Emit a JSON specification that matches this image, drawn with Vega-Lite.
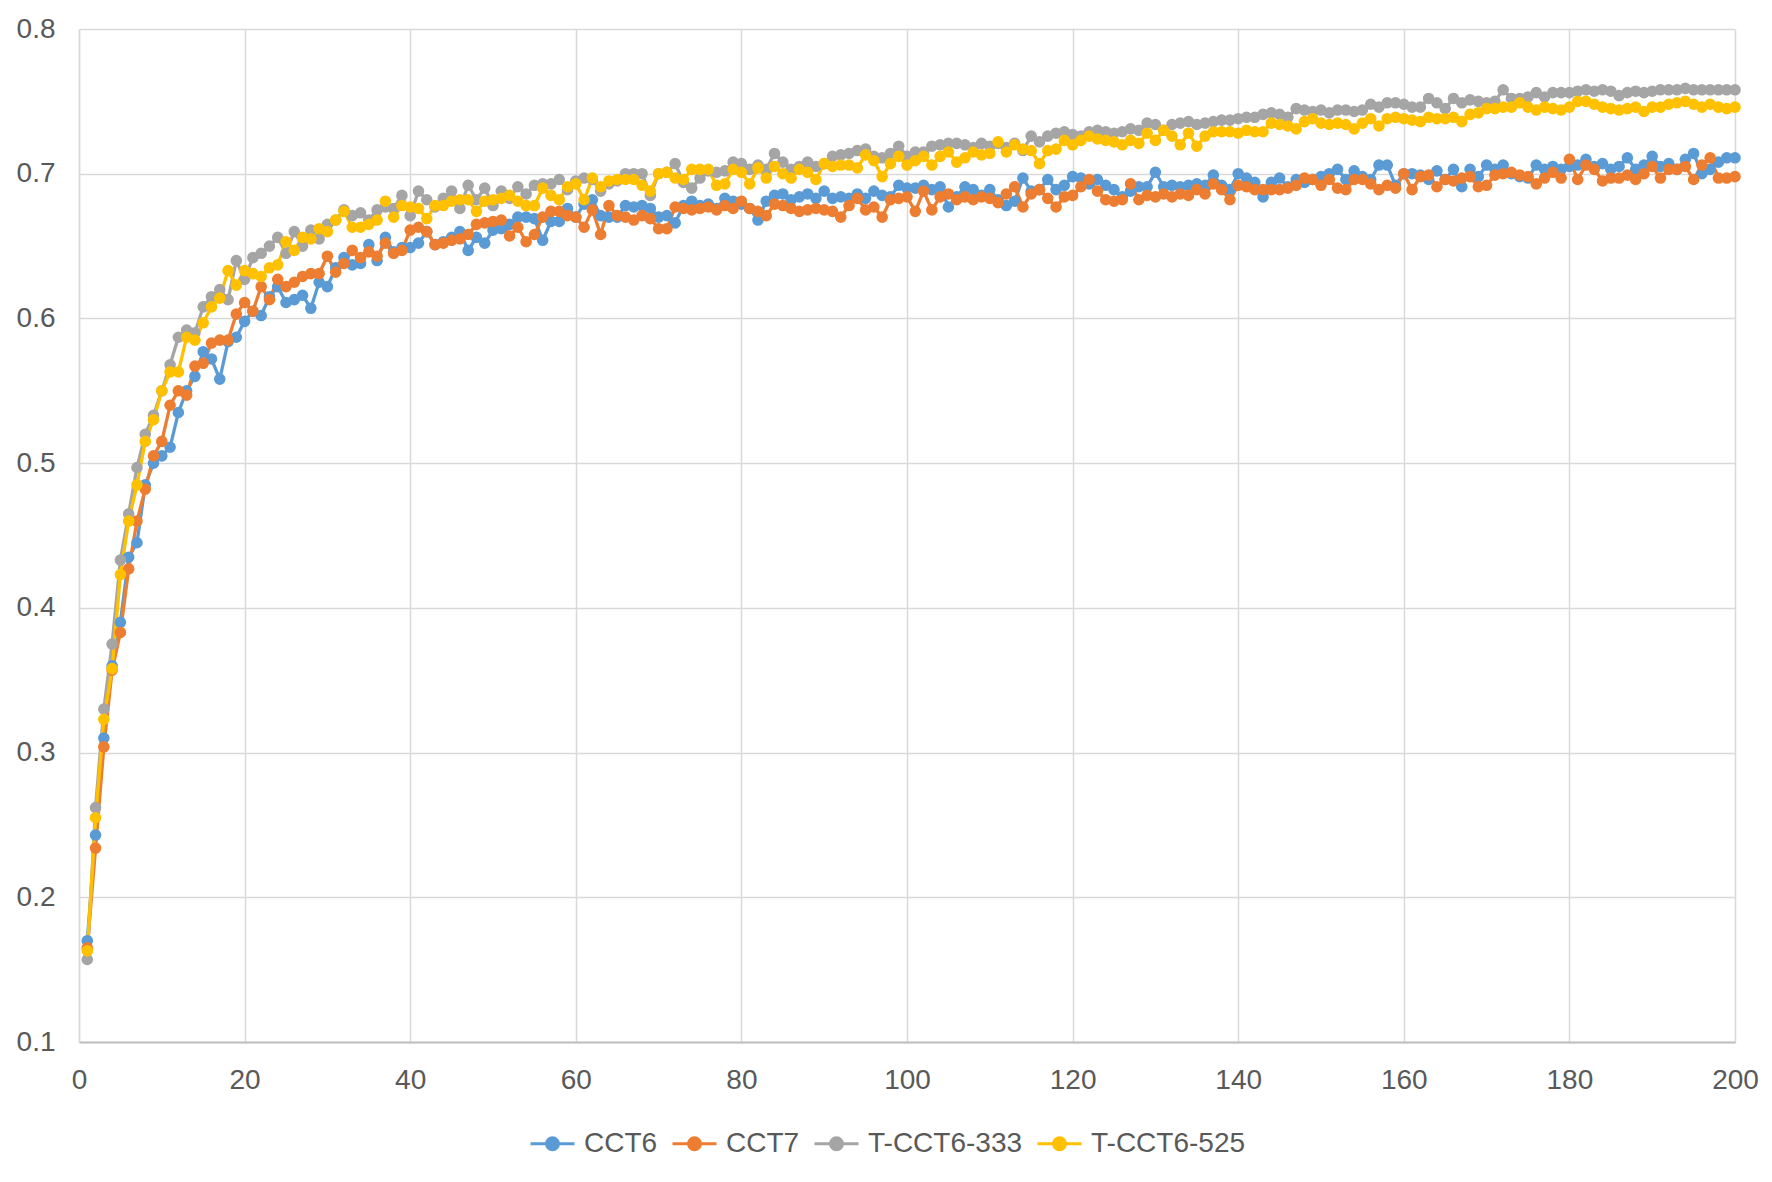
{
  "$schema": "https://vega.github.io/schema/vega-lite/v6.json",
  "width": 1656,
  "height": 1013,
  "autosize": {"type": "none"},
  "padding": {"left": 79, "top": 29, "right": 37, "bottom": 140},
  "background": "white",
  "config": {
    "font": "Liberation Sans",
    "view": {"stroke": null},
    "axis": {
      "labelFont": "Liberation Sans",
      "labelFontSize": 28,
      "labelColor": "#595959",
      "gridColor": "#D9D9D9",
      "gridWidth": 1.5,
      "ticks": false,
      "title": null
    }
  },
  "data": {
    "values": [
      {"x": 1, "CCT6": 0.170, "CCT7": 0.165, "T-CCT6-333": 0.157, "T-CCT6-525": 0.163},
      {"x": 2, "CCT6": 0.243, "CCT7": 0.234, "T-CCT6-333": 0.262, "T-CCT6-525": 0.255},
      {"x": 3, "CCT6": 0.310, "CCT7": 0.304, "T-CCT6-333": 0.330, "T-CCT6-525": 0.323},
      {"x": 4, "CCT6": 0.360, "CCT7": 0.357, "T-CCT6-333": 0.375, "T-CCT6-525": 0.358},
      {"x": 5, "CCT6": 0.390, "CCT7": 0.383, "T-CCT6-333": 0.433, "T-CCT6-525": 0.423},
      {"x": 6, "CCT6": 0.435, "CCT7": 0.427, "T-CCT6-333": 0.465, "T-CCT6-525": 0.460},
      {"x": 7, "CCT6": 0.445, "CCT7": 0.460, "T-CCT6-333": 0.497, "T-CCT6-525": 0.485},
      {"x": 8, "CCT6": 0.485, "CCT7": 0.482, "T-CCT6-333": 0.520, "T-CCT6-525": 0.515},
      {"x": 9, "CCT6": 0.500, "CCT7": 0.505, "T-CCT6-333": 0.533, "T-CCT6-525": 0.530},
      {"x": 10, "CCT6": 0.505, "CCT7": 0.515, "T-CCT6-333": 0.550, "T-CCT6-525": 0.550},
      {"x": 11, "CCT6": 0.511, "CCT7": 0.540, "T-CCT6-333": 0.568, "T-CCT6-525": 0.563},
      {"x": 12, "CCT6": 0.535, "CCT7": 0.550, "T-CCT6-333": 0.587, "T-CCT6-525": 0.563},
      {"x": 13, "CCT6": 0.550, "CCT7": 0.547, "T-CCT6-333": 0.592, "T-CCT6-525": 0.587},
      {"x": 14, "CCT6": 0.560, "CCT7": 0.567, "T-CCT6-333": 0.590, "T-CCT6-525": 0.585},
      {"x": 15, "CCT6": 0.577, "CCT7": 0.569, "T-CCT6-333": 0.608, "T-CCT6-525": 0.597},
      {"x": 16, "CCT6": 0.572, "CCT7": 0.583, "T-CCT6-333": 0.615, "T-CCT6-525": 0.608},
      {"x": 17, "CCT6": 0.558, "CCT7": 0.585, "T-CCT6-333": 0.620, "T-CCT6-525": 0.614},
      {"x": 18, "CCT6": 0.584, "CCT7": 0.585, "T-CCT6-333": 0.613, "T-CCT6-525": 0.633},
      {"x": 19, "CCT6": 0.587, "CCT7": 0.603, "T-CCT6-333": 0.640, "T-CCT6-525": 0.623},
      {"x": 20, "CCT6": 0.598, "CCT7": 0.611, "T-CCT6-333": 0.627, "T-CCT6-525": 0.633},
      {"x": 21, "CCT6": 0.605, "CCT7": 0.605, "T-CCT6-333": 0.642, "T-CCT6-525": 0.631},
      {"x": 22, "CCT6": 0.602, "CCT7": 0.622, "T-CCT6-333": 0.645, "T-CCT6-525": 0.629},
      {"x": 23, "CCT6": 0.615, "CCT7": 0.613, "T-CCT6-333": 0.650, "T-CCT6-525": 0.635},
      {"x": 24, "CCT6": 0.622, "CCT7": 0.627, "T-CCT6-333": 0.656, "T-CCT6-525": 0.637},
      {"x": 25, "CCT6": 0.611, "CCT7": 0.622, "T-CCT6-333": 0.645, "T-CCT6-525": 0.653},
      {"x": 26, "CCT6": 0.613, "CCT7": 0.625, "T-CCT6-333": 0.660, "T-CCT6-525": 0.647},
      {"x": 27, "CCT6": 0.616, "CCT7": 0.629, "T-CCT6-333": 0.650, "T-CCT6-525": 0.656},
      {"x": 28, "CCT6": 0.607, "CCT7": 0.631, "T-CCT6-333": 0.661, "T-CCT6-525": 0.655},
      {"x": 29, "CCT6": 0.625, "CCT7": 0.631, "T-CCT6-333": 0.655, "T-CCT6-525": 0.662},
      {"x": 30, "CCT6": 0.622, "CCT7": 0.643, "T-CCT6-333": 0.665, "T-CCT6-525": 0.660},
      {"x": 31, "CCT6": 0.635, "CCT7": 0.632, "T-CCT6-333": 0.668, "T-CCT6-525": 0.668},
      {"x": 32, "CCT6": 0.642, "CCT7": 0.638, "T-CCT6-333": 0.675, "T-CCT6-525": 0.674},
      {"x": 33, "CCT6": 0.637, "CCT7": 0.647, "T-CCT6-333": 0.671, "T-CCT6-525": 0.663},
      {"x": 34, "CCT6": 0.638, "CCT7": 0.642, "T-CCT6-333": 0.673, "T-CCT6-525": 0.663},
      {"x": 35, "CCT6": 0.651, "CCT7": 0.646, "T-CCT6-333": 0.668, "T-CCT6-525": 0.665},
      {"x": 36, "CCT6": 0.640, "CCT7": 0.643, "T-CCT6-333": 0.675, "T-CCT6-525": 0.668},
      {"x": 37, "CCT6": 0.656, "CCT7": 0.652, "T-CCT6-333": 0.677, "T-CCT6-525": 0.681},
      {"x": 38, "CCT6": 0.646, "CCT7": 0.645, "T-CCT6-333": 0.676, "T-CCT6-525": 0.670},
      {"x": 39, "CCT6": 0.649, "CCT7": 0.647, "T-CCT6-333": 0.685, "T-CCT6-525": 0.678},
      {"x": 40, "CCT6": 0.649, "CCT7": 0.661, "T-CCT6-333": 0.671, "T-CCT6-525": 0.677},
      {"x": 41, "CCT6": 0.652, "CCT7": 0.663, "T-CCT6-333": 0.688, "T-CCT6-525": 0.676},
      {"x": 42, "CCT6": 0.660, "CCT7": 0.660, "T-CCT6-333": 0.682, "T-CCT6-525": 0.669},
      {"x": 43, "CCT6": 0.651, "CCT7": 0.651, "T-CCT6-333": 0.677, "T-CCT6-525": 0.678},
      {"x": 44, "CCT6": 0.653, "CCT7": 0.652, "T-CCT6-333": 0.683, "T-CCT6-525": 0.678},
      {"x": 45, "CCT6": 0.656, "CCT7": 0.654, "T-CCT6-333": 0.688, "T-CCT6-525": 0.681},
      {"x": 46, "CCT6": 0.660, "CCT7": 0.655, "T-CCT6-333": 0.676, "T-CCT6-525": 0.682},
      {"x": 47, "CCT6": 0.647, "CCT7": 0.658, "T-CCT6-333": 0.692, "T-CCT6-525": 0.682},
      {"x": 48, "CCT6": 0.656, "CCT7": 0.665, "T-CCT6-333": 0.682, "T-CCT6-525": 0.674},
      {"x": 49, "CCT6": 0.652, "CCT7": 0.666, "T-CCT6-333": 0.690, "T-CCT6-525": 0.681},
      {"x": 50, "CCT6": 0.661, "CCT7": 0.667, "T-CCT6-333": 0.678, "T-CCT6-525": 0.682},
      {"x": 51, "CCT6": 0.662, "CCT7": 0.668, "T-CCT6-333": 0.688, "T-CCT6-525": 0.683},
      {"x": 52, "CCT6": 0.665, "CCT7": 0.657, "T-CCT6-333": 0.683, "T-CCT6-525": 0.685},
      {"x": 53, "CCT6": 0.670, "CCT7": 0.663, "T-CCT6-333": 0.691, "T-CCT6-525": 0.681},
      {"x": 54, "CCT6": 0.670, "CCT7": 0.653, "T-CCT6-333": 0.686, "T-CCT6-525": 0.678},
      {"x": 55, "CCT6": 0.669, "CCT7": 0.658, "T-CCT6-333": 0.692, "T-CCT6-525": 0.678},
      {"x": 56, "CCT6": 0.654, "CCT7": 0.670, "T-CCT6-333": 0.693, "T-CCT6-525": 0.690},
      {"x": 57, "CCT6": 0.667, "CCT7": 0.674, "T-CCT6-333": 0.693, "T-CCT6-525": 0.685},
      {"x": 58, "CCT6": 0.667, "CCT7": 0.674, "T-CCT6-333": 0.696, "T-CCT6-525": 0.682},
      {"x": 59, "CCT6": 0.676, "CCT7": 0.671, "T-CCT6-333": 0.689, "T-CCT6-525": 0.691},
      {"x": 60, "CCT6": 0.670, "CCT7": 0.670, "T-CCT6-333": 0.695, "T-CCT6-525": 0.693},
      {"x": 61, "CCT6": 0.679, "CCT7": 0.663, "T-CCT6-333": 0.697, "T-CCT6-525": 0.682},
      {"x": 62, "CCT6": 0.682, "CCT7": 0.675, "T-CCT6-333": 0.696, "T-CCT6-525": 0.697},
      {"x": 63, "CCT6": 0.671, "CCT7": 0.658, "T-CCT6-333": 0.688, "T-CCT6-525": 0.691},
      {"x": 64, "CCT6": 0.670, "CCT7": 0.678, "T-CCT6-333": 0.693, "T-CCT6-525": 0.695},
      {"x": 65, "CCT6": 0.670, "CCT7": 0.671, "T-CCT6-333": 0.695, "T-CCT6-525": 0.696},
      {"x": 66, "CCT6": 0.678, "CCT7": 0.670, "T-CCT6-333": 0.700, "T-CCT6-525": 0.696},
      {"x": 67, "CCT6": 0.677, "CCT7": 0.668, "T-CCT6-333": 0.700, "T-CCT6-525": 0.696},
      {"x": 68, "CCT6": 0.678, "CCT7": 0.671, "T-CCT6-333": 0.700, "T-CCT6-525": 0.692},
      {"x": 69, "CCT6": 0.676, "CCT7": 0.669, "T-CCT6-333": 0.685, "T-CCT6-525": 0.688},
      {"x": 70, "CCT6": 0.670, "CCT7": 0.662, "T-CCT6-333": 0.700, "T-CCT6-525": 0.700},
      {"x": 71, "CCT6": 0.671, "CCT7": 0.662, "T-CCT6-333": 0.701, "T-CCT6-525": 0.701},
      {"x": 72, "CCT6": 0.666, "CCT7": 0.677, "T-CCT6-333": 0.707, "T-CCT6-525": 0.697},
      {"x": 73, "CCT6": 0.678, "CCT7": 0.676, "T-CCT6-333": 0.694, "T-CCT6-525": 0.696},
      {"x": 74, "CCT6": 0.681, "CCT7": 0.675, "T-CCT6-333": 0.690, "T-CCT6-525": 0.703},
      {"x": 75, "CCT6": 0.678, "CCT7": 0.676, "T-CCT6-333": 0.697, "T-CCT6-525": 0.703},
      {"x": 76, "CCT6": 0.679, "CCT7": 0.677, "T-CCT6-333": 0.702, "T-CCT6-525": 0.703},
      {"x": 77, "CCT6": 0.676, "CCT7": 0.675, "T-CCT6-333": 0.701, "T-CCT6-525": 0.692},
      {"x": 78, "CCT6": 0.683, "CCT7": 0.678, "T-CCT6-333": 0.702, "T-CCT6-525": 0.693},
      {"x": 79, "CCT6": 0.681, "CCT7": 0.676, "T-CCT6-333": 0.708, "T-CCT6-525": 0.703},
      {"x": 80, "CCT6": 0.679, "CCT7": 0.681, "T-CCT6-333": 0.707, "T-CCT6-525": 0.701},
      {"x": 81, "CCT6": 0.676, "CCT7": 0.676, "T-CCT6-333": 0.703, "T-CCT6-525": 0.693},
      {"x": 82, "CCT6": 0.668, "CCT7": 0.674, "T-CCT6-333": 0.706, "T-CCT6-525": 0.704},
      {"x": 83, "CCT6": 0.681, "CCT7": 0.671, "T-CCT6-333": 0.703, "T-CCT6-525": 0.697},
      {"x": 84, "CCT6": 0.685, "CCT7": 0.679, "T-CCT6-333": 0.714, "T-CCT6-525": 0.705},
      {"x": 85, "CCT6": 0.686, "CCT7": 0.678, "T-CCT6-333": 0.708, "T-CCT6-525": 0.700},
      {"x": 86, "CCT6": 0.682, "CCT7": 0.676, "T-CCT6-333": 0.703, "T-CCT6-525": 0.697},
      {"x": 87, "CCT6": 0.684, "CCT7": 0.674, "T-CCT6-333": 0.705, "T-CCT6-525": 0.703},
      {"x": 88, "CCT6": 0.686, "CCT7": 0.675, "T-CCT6-333": 0.708, "T-CCT6-525": 0.701},
      {"x": 89, "CCT6": 0.683, "CCT7": 0.676, "T-CCT6-333": 0.705, "T-CCT6-525": 0.696},
      {"x": 90, "CCT6": 0.688, "CCT7": 0.675, "T-CCT6-333": 0.707, "T-CCT6-525": 0.707},
      {"x": 91, "CCT6": 0.683, "CCT7": 0.674, "T-CCT6-333": 0.712, "T-CCT6-525": 0.705},
      {"x": 92, "CCT6": 0.684, "CCT7": 0.670, "T-CCT6-333": 0.713, "T-CCT6-525": 0.706},
      {"x": 93, "CCT6": 0.683, "CCT7": 0.678, "T-CCT6-333": 0.714, "T-CCT6-525": 0.706},
      {"x": 94, "CCT6": 0.686, "CCT7": 0.683, "T-CCT6-333": 0.716, "T-CCT6-525": 0.704},
      {"x": 95, "CCT6": 0.683, "CCT7": 0.675, "T-CCT6-333": 0.717, "T-CCT6-525": 0.713},
      {"x": 96, "CCT6": 0.688, "CCT7": 0.677, "T-CCT6-333": 0.712, "T-CCT6-525": 0.709},
      {"x": 97, "CCT6": 0.685, "CCT7": 0.670, "T-CCT6-333": 0.711, "T-CCT6-525": 0.698},
      {"x": 98, "CCT6": 0.684, "CCT7": 0.682, "T-CCT6-333": 0.714, "T-CCT6-525": 0.707},
      {"x": 99, "CCT6": 0.692, "CCT7": 0.683, "T-CCT6-333": 0.719, "T-CCT6-525": 0.712},
      {"x": 100, "CCT6": 0.690, "CCT7": 0.684, "T-CCT6-333": 0.712, "T-CCT6-525": 0.706},
      {"x": 101, "CCT6": 0.690, "CCT7": 0.674, "T-CCT6-333": 0.715, "T-CCT6-525": 0.709},
      {"x": 102, "CCT6": 0.692, "CCT7": 0.688, "T-CCT6-333": 0.715, "T-CCT6-525": 0.712},
      {"x": 103, "CCT6": 0.689, "CCT7": 0.675, "T-CCT6-333": 0.719, "T-CCT6-525": 0.706},
      {"x": 104, "CCT6": 0.691, "CCT7": 0.684, "T-CCT6-333": 0.720, "T-CCT6-525": 0.712},
      {"x": 105, "CCT6": 0.677, "CCT7": 0.686, "T-CCT6-333": 0.721, "T-CCT6-525": 0.715},
      {"x": 106, "CCT6": 0.684, "CCT7": 0.682, "T-CCT6-333": 0.721, "T-CCT6-525": 0.708},
      {"x": 107, "CCT6": 0.691, "CCT7": 0.684, "T-CCT6-333": 0.720, "T-CCT6-525": 0.711},
      {"x": 108, "CCT6": 0.689, "CCT7": 0.682, "T-CCT6-333": 0.718, "T-CCT6-525": 0.715},
      {"x": 109, "CCT6": 0.685, "CCT7": 0.684, "T-CCT6-333": 0.721, "T-CCT6-525": 0.713},
      {"x": 110, "CCT6": 0.689, "CCT7": 0.683, "T-CCT6-333": 0.719, "T-CCT6-525": 0.714},
      {"x": 111, "CCT6": 0.682, "CCT7": 0.680, "T-CCT6-333": 0.721, "T-CCT6-525": 0.722},
      {"x": 112, "CCT6": 0.678, "CCT7": 0.686, "T-CCT6-333": 0.718, "T-CCT6-525": 0.715},
      {"x": 113, "CCT6": 0.681, "CCT7": 0.691, "T-CCT6-333": 0.721, "T-CCT6-525": 0.720},
      {"x": 114, "CCT6": 0.697, "CCT7": 0.677, "T-CCT6-333": 0.716, "T-CCT6-525": 0.717},
      {"x": 115, "CCT6": 0.688, "CCT7": 0.686, "T-CCT6-333": 0.726, "T-CCT6-525": 0.716},
      {"x": 116, "CCT6": 0.689, "CCT7": 0.689, "T-CCT6-333": 0.722, "T-CCT6-525": 0.707},
      {"x": 117, "CCT6": 0.696, "CCT7": 0.683, "T-CCT6-333": 0.726, "T-CCT6-525": 0.716},
      {"x": 118, "CCT6": 0.689, "CCT7": 0.677, "T-CCT6-333": 0.728, "T-CCT6-525": 0.717},
      {"x": 119, "CCT6": 0.692, "CCT7": 0.684, "T-CCT6-333": 0.729, "T-CCT6-525": 0.723},
      {"x": 120, "CCT6": 0.698, "CCT7": 0.685, "T-CCT6-333": 0.727, "T-CCT6-525": 0.720},
      {"x": 121, "CCT6": 0.697, "CCT7": 0.691, "T-CCT6-333": 0.726, "T-CCT6-525": 0.723},
      {"x": 122, "CCT6": 0.693, "CCT7": 0.696, "T-CCT6-333": 0.729, "T-CCT6-525": 0.726},
      {"x": 123, "CCT6": 0.696, "CCT7": 0.688, "T-CCT6-333": 0.730, "T-CCT6-525": 0.724},
      {"x": 124, "CCT6": 0.692, "CCT7": 0.682, "T-CCT6-333": 0.729, "T-CCT6-525": 0.723},
      {"x": 125, "CCT6": 0.689, "CCT7": 0.681, "T-CCT6-333": 0.728, "T-CCT6-525": 0.722},
      {"x": 126, "CCT6": 0.684, "CCT7": 0.682, "T-CCT6-333": 0.729, "T-CCT6-525": 0.720},
      {"x": 127, "CCT6": 0.688, "CCT7": 0.693, "T-CCT6-333": 0.731, "T-CCT6-525": 0.723},
      {"x": 128, "CCT6": 0.691, "CCT7": 0.682, "T-CCT6-333": 0.730, "T-CCT6-525": 0.721},
      {"x": 129, "CCT6": 0.691, "CCT7": 0.685, "T-CCT6-333": 0.735, "T-CCT6-525": 0.728},
      {"x": 130, "CCT6": 0.701, "CCT7": 0.684, "T-CCT6-333": 0.734, "T-CCT6-525": 0.723},
      {"x": 131, "CCT6": 0.691, "CCT7": 0.686, "T-CCT6-333": 0.730, "T-CCT6-525": 0.730},
      {"x": 132, "CCT6": 0.692, "CCT7": 0.684, "T-CCT6-333": 0.734, "T-CCT6-525": 0.726},
      {"x": 133, "CCT6": 0.691, "CCT7": 0.686, "T-CCT6-333": 0.735, "T-CCT6-525": 0.720},
      {"x": 134, "CCT6": 0.692, "CCT7": 0.685, "T-CCT6-333": 0.736, "T-CCT6-525": 0.728},
      {"x": 135, "CCT6": 0.693, "CCT7": 0.689, "T-CCT6-333": 0.734, "T-CCT6-525": 0.719},
      {"x": 136, "CCT6": 0.692, "CCT7": 0.686, "T-CCT6-333": 0.735, "T-CCT6-525": 0.726},
      {"x": 137, "CCT6": 0.699, "CCT7": 0.693, "T-CCT6-333": 0.736, "T-CCT6-525": 0.729},
      {"x": 138, "CCT6": 0.692, "CCT7": 0.689, "T-CCT6-333": 0.737, "T-CCT6-525": 0.729},
      {"x": 139, "CCT6": 0.689, "CCT7": 0.682, "T-CCT6-333": 0.737, "T-CCT6-525": 0.729},
      {"x": 140, "CCT6": 0.700, "CCT7": 0.692, "T-CCT6-333": 0.738, "T-CCT6-525": 0.728},
      {"x": 141, "CCT6": 0.697, "CCT7": 0.691, "T-CCT6-333": 0.739, "T-CCT6-525": 0.730},
      {"x": 142, "CCT6": 0.694, "CCT7": 0.689, "T-CCT6-333": 0.739, "T-CCT6-525": 0.729},
      {"x": 143, "CCT6": 0.684, "CCT7": 0.689, "T-CCT6-333": 0.741, "T-CCT6-525": 0.729},
      {"x": 144, "CCT6": 0.694, "CCT7": 0.689, "T-CCT6-333": 0.742, "T-CCT6-525": 0.735},
      {"x": 145, "CCT6": 0.697, "CCT7": 0.689, "T-CCT6-333": 0.741, "T-CCT6-525": 0.734},
      {"x": 146, "CCT6": 0.691, "CCT7": 0.690, "T-CCT6-333": 0.739, "T-CCT6-525": 0.733},
      {"x": 147, "CCT6": 0.696, "CCT7": 0.692, "T-CCT6-333": 0.745, "T-CCT6-525": 0.731},
      {"x": 148, "CCT6": 0.694, "CCT7": 0.697, "T-CCT6-333": 0.744, "T-CCT6-525": 0.736},
      {"x": 149, "CCT6": 0.696, "CCT7": 0.696, "T-CCT6-333": 0.743, "T-CCT6-525": 0.738},
      {"x": 150, "CCT6": 0.698, "CCT7": 0.692, "T-CCT6-333": 0.744, "T-CCT6-525": 0.735},
      {"x": 151, "CCT6": 0.700, "CCT7": 0.696, "T-CCT6-333": 0.742, "T-CCT6-525": 0.734},
      {"x": 152, "CCT6": 0.703, "CCT7": 0.690, "T-CCT6-333": 0.744, "T-CCT6-525": 0.735},
      {"x": 153, "CCT6": 0.696, "CCT7": 0.689, "T-CCT6-333": 0.744, "T-CCT6-525": 0.734},
      {"x": 154, "CCT6": 0.702, "CCT7": 0.696, "T-CCT6-333": 0.743, "T-CCT6-525": 0.731},
      {"x": 155, "CCT6": 0.698, "CCT7": 0.696, "T-CCT6-333": 0.744, "T-CCT6-525": 0.735},
      {"x": 156, "CCT6": 0.696, "CCT7": 0.693, "T-CCT6-333": 0.748, "T-CCT6-525": 0.738},
      {"x": 157, "CCT6": 0.706, "CCT7": 0.689, "T-CCT6-333": 0.746, "T-CCT6-525": 0.733},
      {"x": 158, "CCT6": 0.706, "CCT7": 0.692, "T-CCT6-333": 0.749, "T-CCT6-525": 0.738},
      {"x": 159, "CCT6": 0.692, "CCT7": 0.690, "T-CCT6-333": 0.749, "T-CCT6-525": 0.739},
      {"x": 160, "CCT6": 0.700, "CCT7": 0.700, "T-CCT6-333": 0.748, "T-CCT6-525": 0.738},
      {"x": 161, "CCT6": 0.700, "CCT7": 0.689, "T-CCT6-333": 0.746, "T-CCT6-525": 0.737},
      {"x": 162, "CCT6": 0.699, "CCT7": 0.698, "T-CCT6-333": 0.746, "T-CCT6-525": 0.736},
      {"x": 163, "CCT6": 0.696, "CCT7": 0.699, "T-CCT6-333": 0.752, "T-CCT6-525": 0.739},
      {"x": 164, "CCT6": 0.702, "CCT7": 0.691, "T-CCT6-333": 0.749, "T-CCT6-525": 0.738},
      {"x": 165, "CCT6": 0.696, "CCT7": 0.696, "T-CCT6-333": 0.745, "T-CCT6-525": 0.738},
      {"x": 166, "CCT6": 0.703, "CCT7": 0.695, "T-CCT6-333": 0.752, "T-CCT6-525": 0.739},
      {"x": 167, "CCT6": 0.691, "CCT7": 0.697, "T-CCT6-333": 0.749, "T-CCT6-525": 0.736},
      {"x": 168, "CCT6": 0.703, "CCT7": 0.698, "T-CCT6-333": 0.751, "T-CCT6-525": 0.741},
      {"x": 169, "CCT6": 0.698, "CCT7": 0.691, "T-CCT6-333": 0.750, "T-CCT6-525": 0.742},
      {"x": 170, "CCT6": 0.706, "CCT7": 0.692, "T-CCT6-333": 0.749, "T-CCT6-525": 0.745},
      {"x": 171, "CCT6": 0.703, "CCT7": 0.699, "T-CCT6-333": 0.750, "T-CCT6-525": 0.745},
      {"x": 172, "CCT6": 0.706, "CCT7": 0.700, "T-CCT6-333": 0.758, "T-CCT6-525": 0.746},
      {"x": 173, "CCT6": 0.700, "CCT7": 0.701, "T-CCT6-333": 0.752, "T-CCT6-525": 0.746},
      {"x": 174, "CCT6": 0.698, "CCT7": 0.699, "T-CCT6-333": 0.752, "T-CCT6-525": 0.749},
      {"x": 175, "CCT6": 0.697, "CCT7": 0.698, "T-CCT6-333": 0.753, "T-CCT6-525": 0.746},
      {"x": 176, "CCT6": 0.706, "CCT7": 0.693, "T-CCT6-333": 0.756, "T-CCT6-525": 0.744},
      {"x": 177, "CCT6": 0.703, "CCT7": 0.697, "T-CCT6-333": 0.753, "T-CCT6-525": 0.746},
      {"x": 178, "CCT6": 0.705, "CCT7": 0.701, "T-CCT6-333": 0.756, "T-CCT6-525": 0.745},
      {"x": 179, "CCT6": 0.703, "CCT7": 0.697, "T-CCT6-333": 0.756, "T-CCT6-525": 0.744},
      {"x": 180, "CCT6": 0.705, "CCT7": 0.710, "T-CCT6-333": 0.756, "T-CCT6-525": 0.746},
      {"x": 181, "CCT6": 0.706, "CCT7": 0.696, "T-CCT6-333": 0.757, "T-CCT6-525": 0.750},
      {"x": 182, "CCT6": 0.710, "CCT7": 0.706, "T-CCT6-333": 0.758, "T-CCT6-525": 0.750},
      {"x": 183, "CCT6": 0.705, "CCT7": 0.703, "T-CCT6-333": 0.757, "T-CCT6-525": 0.748},
      {"x": 184, "CCT6": 0.707, "CCT7": 0.695, "T-CCT6-333": 0.758, "T-CCT6-525": 0.746},
      {"x": 185, "CCT6": 0.703, "CCT7": 0.697, "T-CCT6-333": 0.757, "T-CCT6-525": 0.745},
      {"x": 186, "CCT6": 0.705, "CCT7": 0.697, "T-CCT6-333": 0.754, "T-CCT6-525": 0.744},
      {"x": 187, "CCT6": 0.711, "CCT7": 0.699, "T-CCT6-333": 0.756, "T-CCT6-525": 0.745},
      {"x": 188, "CCT6": 0.703, "CCT7": 0.696, "T-CCT6-333": 0.757, "T-CCT6-525": 0.746},
      {"x": 189, "CCT6": 0.706, "CCT7": 0.700, "T-CCT6-333": 0.756, "T-CCT6-525": 0.743},
      {"x": 190, "CCT6": 0.712, "CCT7": 0.705, "T-CCT6-333": 0.757, "T-CCT6-525": 0.746},
      {"x": 191, "CCT6": 0.705, "CCT7": 0.697, "T-CCT6-333": 0.758, "T-CCT6-525": 0.746},
      {"x": 192, "CCT6": 0.707, "CCT7": 0.703, "T-CCT6-333": 0.758, "T-CCT6-525": 0.748},
      {"x": 193, "CCT6": 0.703, "CCT7": 0.703, "T-CCT6-333": 0.758, "T-CCT6-525": 0.749},
      {"x": 194, "CCT6": 0.710, "CCT7": 0.705, "T-CCT6-333": 0.759, "T-CCT6-525": 0.750},
      {"x": 195, "CCT6": 0.714, "CCT7": 0.696, "T-CCT6-333": 0.758, "T-CCT6-525": 0.748},
      {"x": 196, "CCT6": 0.700, "CCT7": 0.706, "T-CCT6-333": 0.758, "T-CCT6-525": 0.746},
      {"x": 197, "CCT6": 0.703, "CCT7": 0.711, "T-CCT6-333": 0.758, "T-CCT6-525": 0.748},
      {"x": 198, "CCT6": 0.708, "CCT7": 0.697, "T-CCT6-333": 0.758, "T-CCT6-525": 0.746},
      {"x": 199, "CCT6": 0.711, "CCT7": 0.697, "T-CCT6-333": 0.758, "T-CCT6-525": 0.745},
      {"x": 200, "CCT6": 0.711, "CCT7": 0.698, "T-CCT6-333": 0.758, "T-CCT6-525": 0.746}
    ]
  },
  "transform": [
    {"fold": ["CCT6", "CCT7", "T-CCT6-333", "T-CCT6-525"], "as": ["series", "value"]}
  ],
  "encoding": {
    "x": {
      "field": "x",
      "type": "quantitative",
      "scale": {"domain": [0, 200], "nice": false},
      "axis": {
        "values": [0, 20, 40, 60, 80, 100, 120, 140, 160, 180, 200],
        "format": "d",
        "labelPadding": 24,
        "labelFlush": false,
        "labelOverlap": false,
        "domainColor": "#BFBFBF",
        "domainWidth": 2
      }
    },
    "y": {
      "field": "value",
      "type": "quantitative",
      "scale": {"domain": [0.1, 0.8], "nice": false, "zero": false},
      "axis": {
        "values": [0.1, 0.2, 0.3, 0.4, 0.5, 0.6, 0.7, 0.8],
        "format": ".1f",
        "labelPadding": 24,
        "labelFlush": false,
        "labelOverlap": false,
        "domainColor": "#D9D9D9",
        "domainWidth": 1.5
      }
    },
    "color": {
      "field": "series",
      "type": "nominal",
      "scale": {
        "domain": ["CCT6", "CCT7", "T-CCT6-333", "T-CCT6-525"],
        "range": ["#5B9BD5", "#ED7D31", "#A5A5A5", "#FFC000"]
      },
      "legend": {
        "orient": "none",
        "legendX": 450,
        "legendY": 1091,
        "direction": "horizontal",
        "title": null,
        "padding": 0,
        "symbolType": "M-1,0H1M-0.27,0A0.27,0.27,0,1,1,0.27,0A0.27,0.27,0,1,1,-0.27,0Z",
        "symbolSize": 1936,
        "symbolStrokeWidth": 3,
        "labelFontSize": 28,
        "labelFont": "Liberation Sans",
        "labelColor": "#595959",
        "labelOffset": 8,
        "columnPadding": 8,
        "encode": {
          "symbols": {
            "update": {
              "fill": {"scale": "color", "field": "value"},
              "stroke": {"scale": "color", "field": "value"},
              "strokeWidth": {"value": 3},
              "opacity": {"value": 1}
            }
          }
        }
      }
    }
  },
  "layer": [
    {"mark": {"type": "line", "strokeWidth": 3.3}},
    {
      "mark": {"type": "point", "filled": true, "size": 135, "opacity": 1},
      "encoding": {"order": {"field": "series", "type": "nominal"}}
    }
  ]
}
